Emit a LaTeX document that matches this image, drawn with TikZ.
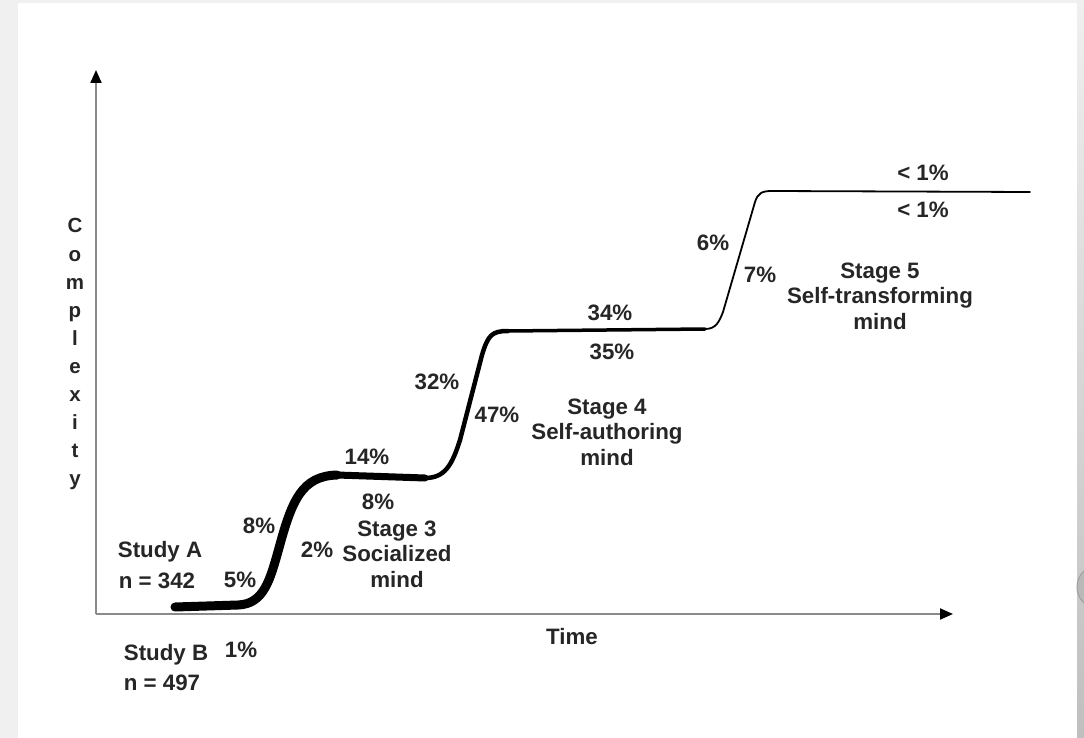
\documentclass[tikz,border=0pt]{standalone}
\usepackage{fontspec}
\setmainfont{Liberation Sans}
\usetikzlibrary{arrows.meta}
\definecolor{txt}{HTML}{262626}
\definecolor{axisgray}{HTML}{8A8A8A}
\definecolor{leftgray}{HTML}{F0F0F0}
\tikzset{
  lbl/.style={font=\bfseries\fontsize{22.3}{25.5}\selectfont, text=txt, align=center, inner sep=0pt},
  vlet/.style={font=\bfseries\fontsize{20.5}{24}\selectfont, text=txt, anchor=base, inner sep=0pt},
  axisline/.style={draw=axisgray, line width=2pt, -{Triangle[length=13pt,width=11pt,color=black]}},
  curve/.style={draw=black, line cap=round, line join=round}
}
\begin{document}
\begin{tikzpicture}[x=1pt,y=-1pt]
\useasboundingbox (0,0) rectangle (1084,738);
\begin{scope}
\clip (0,0) rectangle (1084,738);
% frame background
\fill[leftgray] (0,0) rectangle (1084,738);
\fill[white] (18,3) rectangle (1077,740);
\shade[top color=gray!12, bottom color=gray!50] (1077,0) rectangle (1084,738);
\fill[gray!55, draw=gray!75, line width=1pt] (1099,587) circle (22);
\end{scope}

% axes
\coordinate (O) at (96,614);
\coordinate (ytip) at (96,70);
\coordinate (xtip) at (953,614);
\draw[axisline] (O) -- (ytip);
\draw[axisline] (O) -- (xtip);

% curve points
\coordinate (s0) at (175,607);
\coordinate (s1) at (238,605);
\coordinate (s2) at (279,548);
\coordinate (s3) at (337,475);
\coordinate (s4) at (425,478);
\coordinate (s5) at (460,440);
\coordinate (s6) at (482,355);
\coordinate (s7) at (508,331);
\coordinate (s8) at (705,329);
\coordinate (s9) at (723,312);
\coordinate (s10) at (755,202);
\coordinate (s11) at (772,191);
\coordinate (s12) at (1030,192);

\draw[curve, line width=9pt] (s0) -- (s1) .. controls (264,604) and (270,580) .. (s2)
  .. controls (292,500) and (302,476) .. (s3);
\draw[curve, line width=7pt] (s3) -- (s4);
\draw[curve, line width=4.5pt] (s4) .. controls (445,478) and (452,465) .. (s5) -- (s6)
  .. controls (488,335) and (492,331) .. (s7);
\draw[curve, line width=3.5pt] (s7) -- (s8);
\draw[curve, line width=1.8pt] (s8) .. controls (716,329) and (719,322) .. (s9) -- (s10)
  .. controls (758,193) and (762,191) .. (s11) -- (s12);

% y-axis label
\foreach \ch [count=\i from 0] in {C,o,m,p,l,e,x,i,t,y}{
  \node[vlet] (c\i) at (75,233+28*\i) {\ch};
}

% x-axis label
\node[lbl] (time) at (572,637) {Time};

% study labels
\node[lbl] (studyA) at (160,552) {Study A};
\node[lbl] (nA) at (157,581) {n = 342};
\node[lbl] (studyB) at (166,655) {Study B};
\node[lbl] (nB) at (162,683) {n = 497};

% percentages
\node[lbl] (p5) at (240,580) {5\%};
\node[lbl] (p1) at (241,650) {1\%};
\node[lbl] (p8a) at (259,526) {8\%};
\node[lbl] (p2) at (317,550) {2\%};
\node[lbl] (p14) at (367,457) {14\%};
\node[lbl] (p8b) at (378,502) {8\%};
\node[lbl] (p32) at (437,382) {32\%};
\node[lbl] (p47) at (497,415) {47\%};
\node[lbl] (p34) at (610,313) {34\%};
\node[lbl] (p35) at (612,352) {35\%};
\node[lbl] (p6) at (713,243) {6\%};
\node[lbl] (p7) at (760,275) {7\%};
\node[lbl] (plt1) at (923,173) {< 1\%};
\node[lbl] (plt2) at (923,210) {< 1\%};

% stage labels
\node[lbl] (st3) at (397,554) {Stage 3\\Socialized\\mind};
\node[lbl] (st4) at (607,432) {Stage 4\\Self-authoring\\mind};
\node[lbl] (st5) at (880,296) {Stage 5\\Self-transforming\\mind};
\end{tikzpicture}
\end{document}
